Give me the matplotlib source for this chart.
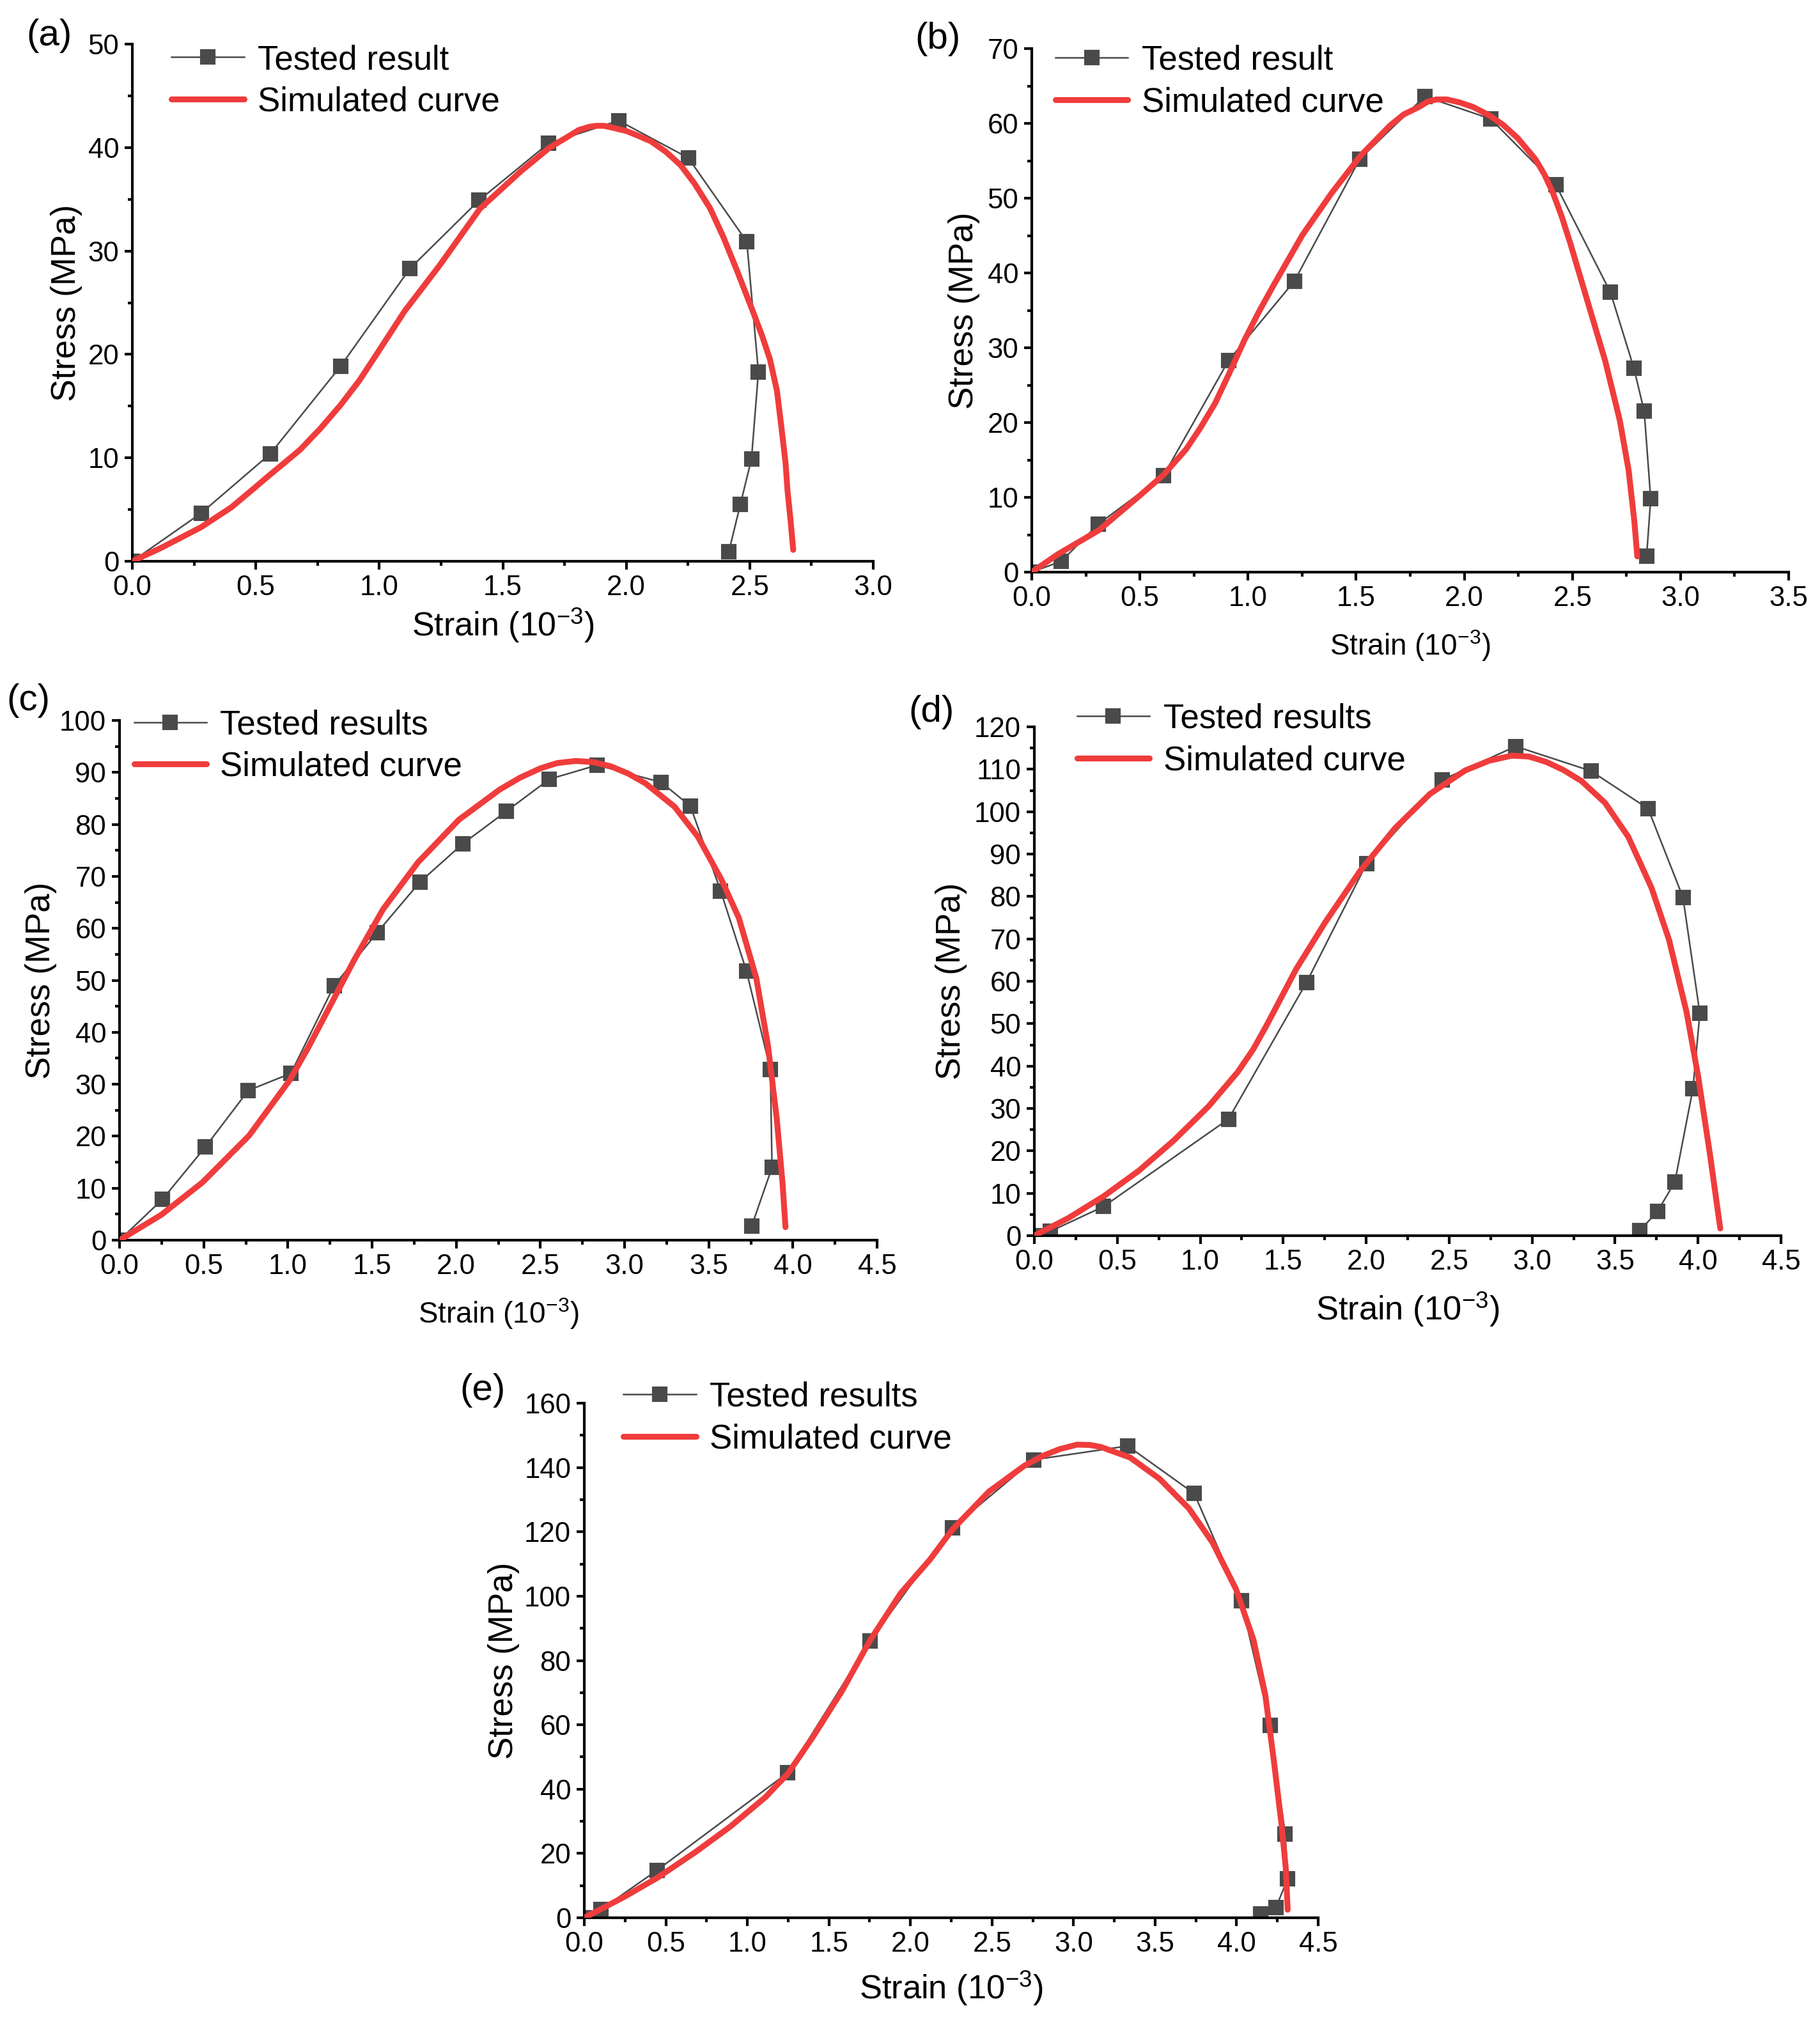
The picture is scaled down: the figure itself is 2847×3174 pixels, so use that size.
import matplotlib
matplotlib.use("Agg")
import matplotlib.pyplot as plt
from matplotlib.ticker import MultipleLocator

plt.rcParams["font.family"] = ["Liberation Sans", "DejaVu Sans"]
plt.rcParams["mathtext.default"] = "regular"

# ---- data (strain in 1e-3, stress in MPa) ----
a_test_x = [0.0, 0.279, 0.559, 0.843, 1.124, 1.404, 1.685, 1.969, 2.251, 2.488, 2.535, 2.507, 2.462, 2.415]
a_test_y = [0.0, 4.66, 10.4, 18.85, 28.3, 34.9, 40.4, 42.6, 39.0, 30.9, 18.3, 9.9, 5.5, 0.9]
a_sim_x = [0.0, 0.117, 0.279, 0.4, 0.5, 0.559, 0.62, 0.68, 0.76, 0.843, 0.92, 0.986, 1.103, 1.244,
           1.408, 1.573, 1.690, 1.76, 1.808, 1.85, 1.878, 1.91, 1.948, 2.0, 2.042, 2.10, 2.160,
           2.22, 2.277, 2.34, 2.394, 2.45, 2.512, 2.55, 2.582, 2.61, 2.629, 2.645, 2.653, 2.665, 2.676]
a_sim_y = [0.0, 1.3, 3.3, 5.2, 7.2, 8.4, 9.6, 10.8, 12.8, 15.1, 17.5, 19.9, 24.2, 28.6,
           34.1, 37.7, 40.0, 41.0, 41.7, 42.0, 42.1, 42.1, 41.9, 41.6, 41.2, 40.6, 39.6,
           38.3, 36.5, 34.1, 31.3, 28.0, 24.2, 21.8, 19.5, 16.5, 12.8, 9.5, 6.8, 4.0, 1.1]

b_test_x = [0.0, 0.137, 0.307, 0.609, 0.910, 1.214, 1.516, 1.817, 2.122, 2.423, 2.676, 2.784, 2.832, 2.862, 2.843]
b_test_y = [0.0, 1.46, 6.4, 12.9, 28.3, 38.9, 55.2, 63.6, 60.6, 51.8, 37.4, 27.3, 21.5, 9.8, 2.1]
b_sim_x = [0.0, 0.121, 0.31, 0.498, 0.609, 0.713, 0.78, 0.848, 0.915, 0.983, 1.05, 1.117, 1.252,
           1.387, 1.521, 1.656, 1.72, 1.791, 1.83, 1.871, 1.92, 1.979, 2.04, 2.114, 2.18, 2.248,
           2.329, 2.370, 2.410, 2.45, 2.491, 2.571, 2.652, 2.719, 2.760, 2.786, 2.80]
b_sim_y = [0.0, 2.4, 5.6, 10.2, 13.0, 16.4, 19.3, 22.6, 26.7, 31.0, 34.8, 38.3, 45.1,
           50.7, 55.7, 59.7, 61.2, 62.2, 62.9, 63.2, 63.2, 62.8, 62.2, 61.1, 59.8, 58.0,
           55.2, 53.2, 50.7, 47.6, 43.9, 36.1, 28.2, 20.3, 13.6, 6.9, 2.1]

c_test_x = [0.0, 0.256, 0.509, 0.765, 1.018, 1.275, 1.531, 1.784, 2.040, 2.297, 2.553, 2.837,
            3.218, 3.391, 3.571, 3.724, 3.866, 3.876, 3.755]
c_test_y = [0.0, 7.9, 17.9, 28.8, 32.1, 49.0, 59.2, 68.9, 76.3, 82.5, 88.7, 91.4,
            88.1, 83.5, 67.2, 51.8, 32.9, 14.0, 2.7]
c_sim_x = [0.0, 0.249, 0.492, 0.769, 1.011, 1.12, 1.219, 1.392, 1.566, 1.773, 2.016, 2.258, 2.38,
           2.501, 2.60, 2.709, 2.81, 2.916, 3.02, 3.124, 3.297, 3.436, 3.575, 3.679, 3.782, 3.852,
           3.904, 3.938, 3.956]
c_sim_y = [0.0, 4.9, 11.1, 20.1, 30.8, 37.0, 43.1, 53.8, 63.7, 72.7, 80.9, 86.7, 89.0,
           90.8, 91.8, 92.2, 92.0, 91.2, 89.8, 87.9, 83.4, 77.6, 69.4, 62.0, 50.5, 37.4,
           23.4, 11.1, 2.5]

d_test_x = [0.0, 0.095, 0.418, 1.170, 1.640, 2.002, 2.459, 2.901, 3.354, 3.699, 3.909, 4.011,
            3.969, 3.860, 3.755, 3.649]
d_test_y = [0.0, 1.0, 6.9, 27.5, 59.7, 87.7, 107.5, 115.4, 109.6, 100.7, 79.8, 52.4,
            34.6, 12.6, 5.7, 1.2]
d_sim_x = [0.0, 0.207, 0.418, 0.629, 0.839, 1.050, 1.226, 1.32, 1.401, 1.49, 1.577, 1.753, 1.963,
           2.174, 2.385, 2.596, 2.74, 2.877, 2.98, 3.087, 3.19, 3.298, 3.439, 3.579, 3.720, 3.825,
           3.931, 4.001, 4.071, 4.134]
d_sim_y = [0.0, 4.2, 9.3, 15.3, 22.4, 30.5, 38.6, 44.0, 49.7, 56.3, 62.8, 73.9, 86.0,
           96.1, 104.2, 109.7, 112.0, 113.2, 113.0, 111.7, 109.8, 107.2, 102.1, 94.1, 82.0, 69.8,
           52.7, 37.5, 19.4, 1.7]

e_test_x = [0.0, 0.101, 0.447, 1.248, 1.753, 2.257, 2.755, 3.332, 3.740, 4.028, 4.205, 4.298,
            4.313, 4.241, 4.147]
e_test_y = [0.0, 2.5, 14.8, 45.1, 86.1, 121.3, 142.4, 146.7, 131.9, 98.5, 59.9, 26.0,
            12.1, 3.2, 1.2]
e_sim_x = [0.0, 0.245, 0.447, 0.678, 0.894, 1.111, 1.248, 1.399, 1.580, 1.753, 1.940, 2.120, 2.257,
           2.481, 2.697, 2.81, 2.914, 3.022, 3.10, 3.166, 3.347, 3.527, 3.707, 3.852, 3.996, 4.104,
           4.176, 4.230, 4.277, 4.302, 4.313]
e_sim_y = [0.0, 6.5, 12.4, 20.3, 28.3, 37.5, 44.8, 56.0, 70.5, 86.3, 100.9, 111.4, 120.7,
           132.5, 140.5, 143.6, 145.7, 147.1, 147.0, 146.4, 143.1, 136.5, 127.3, 116.7, 102.2, 86.3,
           69.2, 48.1, 28.3, 15.0, 2.5]

W, H = 2847, 3174
DPI = 300
RED = "#f03c3c"
GRAY = "#4a4a4a"

# panel: letter, data, axis limits, tick steps, legend label, pixel box (l, t, r, b), layout tweaks
panels = [
    dict(tag="(a)", tx=a_test_x, ty=a_test_y, sx=a_sim_x, sy=a_sim_y, xmax=3.0, ymax=50, ystep=10,
         label="Tested result", box=(207, 69, 1366, 878), leg=(0.053, 1.0), ylab=-0.067,
         xlab=-0.087, xfs=12.5, tagpos=(77, 56)),
    dict(tag="(b)", tx=b_test_x, ty=b_test_y, sx=b_sim_x, sy=b_sim_y, xmax=3.5, ymax=70, ystep=10,
         label="Tested result", box=(1614, 76, 2798, 895), leg=(0.031, 1.008), ylab=-0.068,
         xlab=-0.107, xfs=11, tagpos=(1467, 61)),
    dict(tag="(c)", tx=c_test_x, ty=c_test_y, sx=c_sim_x, sy=c_sim_y, xmax=4.5, ymax=100, ystep=10,
         label="Tested results", box=(187, 1127, 1372, 1940), leg=(0.019, 1.022), ylab=-0.083,
         xlab=-0.108, xfs=11, tagpos=(44, 1096)),
    dict(tag="(d)", tx=d_test_x, ty=d_test_y, sx=d_sim_x, sy=d_sim_y, xmax=4.5, ymax=120, ystep=10,
         label="Tested results", box=(1618, 1137, 2786, 1933), leg=(0.057, 1.047), ylab=-0.090,
         xlab=-0.107, xfs=12.6, tagpos=(1457, 1114)),
    dict(tag="(e)", tx=e_test_x, ty=e_test_y, sx=e_sim_x, sy=e_sim_y, xmax=4.5, ymax=160, ystep=20,
         label="Tested results", box=(914, 2195, 2062, 3000), leg=(0.053, 1.043), ylab=-0.088,
         xlab=-0.100, xfs=12.6, tagpos=(755, 2175)),
]

fig = plt.figure(figsize=(W / DPI, H / DPI), dpi=DPI)

for p in panels:
    l, t, r, b = p["box"]
    ax = fig.add_axes([l / W, 1 - b / H, (r - l) / W, (b - t) / H])
    ax.plot(p["tx"], p["ty"], color=GRAY, lw=0.6, marker="s", ms=4.8,
            mfc=GRAY, mec=GRAY, label=p["label"], zorder=2)
    ax.plot(p["sx"], p["sy"], color=RED, lw=2.2, label="Simulated curve",
            solid_capstyle="round", solid_joinstyle="round", zorder=3)

    ax.set_xlim(0, p["xmax"])
    ax.set_ylim(0, p["ymax"])
    ax.xaxis.set_major_locator(MultipleLocator(0.5))
    ax.xaxis.set_minor_locator(MultipleLocator(0.25))
    ax.yaxis.set_major_locator(MultipleLocator(p["ystep"]))
    ax.yaxis.set_minor_locator(MultipleLocator(p["ystep"] / 2))
    ax.xaxis.set_major_formatter(plt.FuncFormatter(lambda v, _: f"{v:.1f}"))
    ax.yaxis.set_major_formatter(plt.FuncFormatter(lambda v, _: f"{v:.0f}"))

    for side in ("top", "right"):
        ax.spines[side].set_visible(False)
    for side in ("left", "bottom"):
        ax.spines[side].set_linewidth(1.0)
    ax.tick_params(which="major", direction="out", length=3.0, width=1.0,
                   labelsize=10.5, pad=2)
    ax.tick_params(which="minor", direction="out", length=1.6, width=1.0)

    ax.set_ylabel("Stress (MPa)", fontsize=12.7)
    ax.yaxis.set_label_coords(p["ylab"], 0.5)
    ax.set_xlabel("Strain (10$^{-3}$)", fontsize=p["xfs"])
    ax.xaxis.set_label_coords(0.5, p["xlab"])

    ax.legend(loc="upper left", bbox_to_anchor=p["leg"], frameon=False,
              fontsize=12.7, borderpad=0, borderaxespad=0, handlelength=2.15,
              handletextpad=0.4, labelspacing=0.3)

    fig.text(p["tagpos"][0] / W, 1 - p["tagpos"][1] / H, p["tag"], fontsize=14,
             ha="center", va="center")

fig.savefig("out.png", dpi=DPI)
